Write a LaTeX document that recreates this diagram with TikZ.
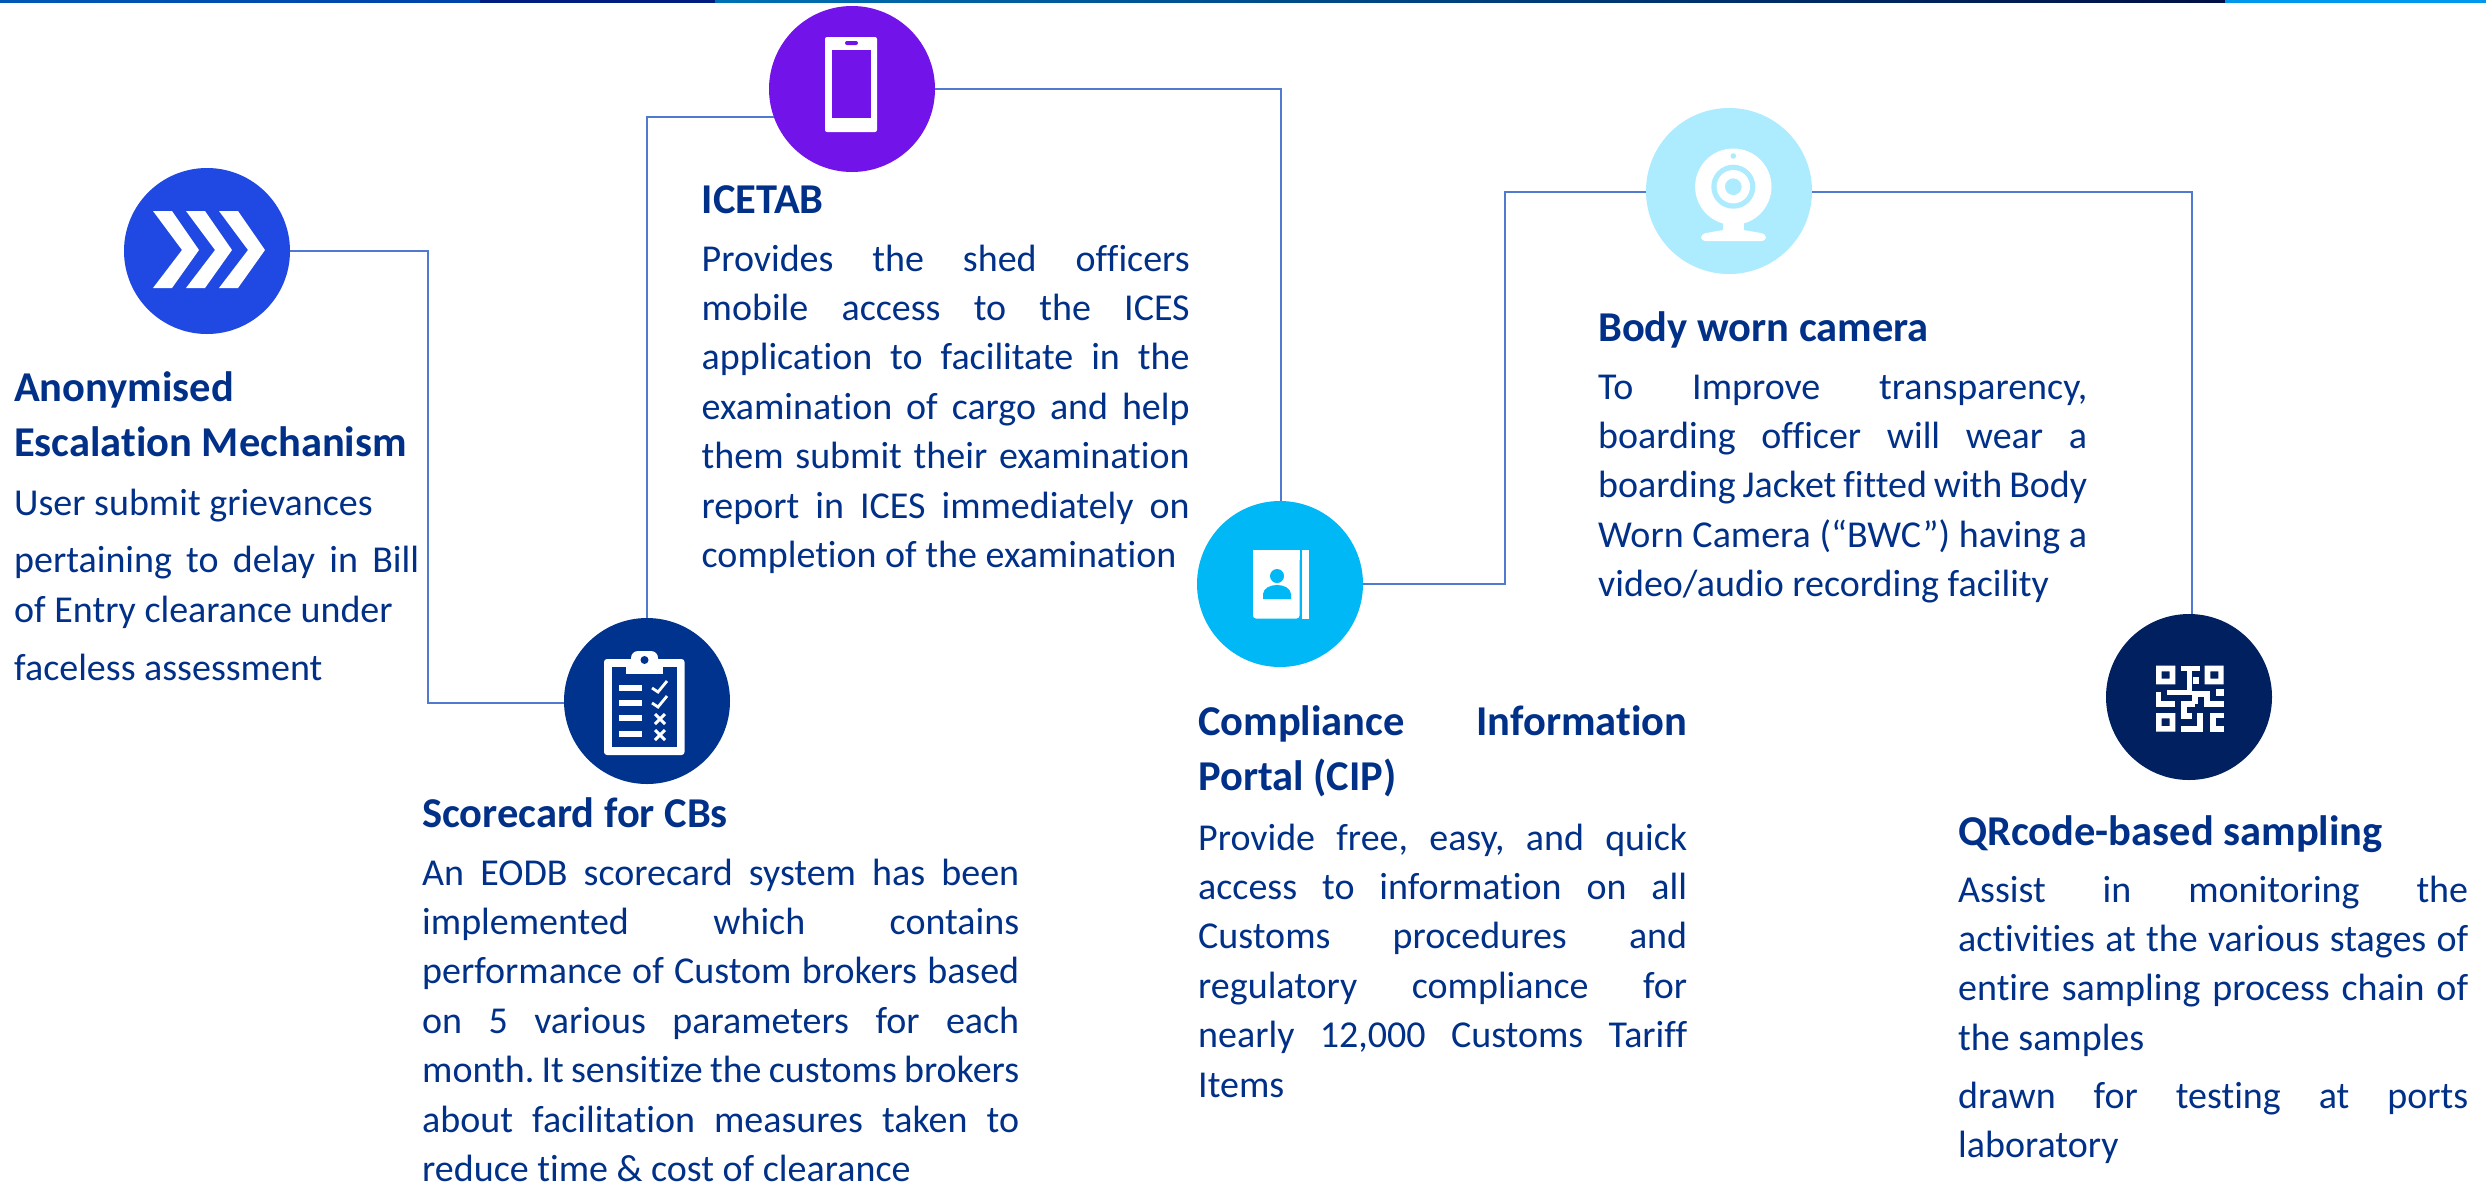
\documentclass[tikz,border=0pt]{standalone}
\usepackage{fontspec}
\setmainfont{Carlito}[Ligatures=NoCommon]
\definecolor{txtblue}{HTML}{003087}
\definecolor{linkblue}{HTML}{4F7AD0}
\definecolor{cA}{HTML}{2049E4}
\definecolor{cB}{HTML}{00338D}
\definecolor{cC}{HTML}{7213EA}
\definecolor{cD}{HTML}{00B8F5}
\definecolor{cE}{HTML}{ADEBFF}
\definecolor{cF}{HTML}{00205F}
\definecolor{barA}{HTML}{0058B4}
\definecolor{barB}{HTML}{0042A8}
\definecolor{barC}{HTML}{001C80}
\definecolor{barD}{HTML}{0070B4}
\definecolor{barE}{HTML}{000F45}
\definecolor{barF}{HTML}{0096EC}
\newlength{\bw}
\newcommand{\jl}[1]{\makebox[\bw][s]{#1}\par}
\newcommand{\pl}[1]{\makebox[\bw][l]{#1}\par}
\newcommand{\bodyblock}[2]{\setlength{\bw}{#1}\parbox[t]{#1}{\fontsize{38bp}{38bp}\selectfont\frenchspacing\setlength{\parindent}{0pt}\setlength{\parskip}{0pt}\setlength{\lineskip}{0pt}\setlength{\baselineskip}{49.4bp}#2}}
\tikzset{
  x=1bp,y=-1bp,
  disc/.style={circle,minimum size=166bp,inner sep=0pt,draw=none},
  link/.style={draw=linkblue,line width=2bp},
  head/.style={anchor=base west,inner sep=0pt,text=txtblue,font=\fontsize{42.5bp}{42.5bp}\selectfont\bfseries},
  body/.style={anchor=base west,inner sep=0pt,text=txtblue},
}
\begin{document}
\begin{tikzpicture}
\useasboundingbox (0,0) rectangle (2486,1185);
\fill[white] (0,0) rectangle (2486,1185);
% top bar
\shade[left color=barA,right color=barB] (0,0) rectangle (480,2.5);
\fill[barC] (480,0) rectangle (715,2.5);
\shade[left color=barD,right color=barE] (715,0) rectangle (2225,2.5);
\fill[barF] (2225,0) rectangle (2486,2.5);
% discs
\node[disc,fill=cA] (anon) at (207,251) {};
\node[disc,fill=cB] (score) at (647,701) {};
\node[disc,fill=cC] (ice) at (852,89) {};
\node[disc,fill=cD] (cip) at (1280,584) {};
\node[disc,fill=cE] (cam) at (1729,191) {};
\node[disc,fill=cF] (qr) at (2189,697) {};
% connectors
\coordinate (k1) at (428,251);
\coordinate (k2) at (428,703);
\draw[link] (anon.east) -- (k1) -- (k2) -- (k2 -| score.west);
\coordinate (k3) at (ice.200 -| score.north);
\draw[link] (score.north) -- (k3) -- (ice.200);
\coordinate (k4) at (1281,89);
\draw[link] (ice.east) -- (k4) -- (k4 |- cip.north);
\coordinate (k5) at (1505,584);
\coordinate (k6) at (1505,192);
\draw[link] (cip.east) -- (k5) -- (k6) -- (k6 -| cam.west);
\coordinate (k7) at (2191.5,192);
\draw[link] (k6 -| cam.east) -- (k7) -- (k7 |- qr.north);
% chevrons
\begin{scope}[shift={(124,168)}]
\foreach \dx in {0,33,66}{
\fill[white,shift={(\dx,0)}] (29,43) -- (48,43) -- (75,82) -- (48,120) -- (29,120) -- (58,82) -- cycle;}
\end{scope}
% clipboard
\begin{scope}[shift={(540,620)}]
\fill[white,rounded corners=3] (64,39) rectangle (144.5,135);
\fill[white,rounded corners=7] (91,31) rectangle (118,50);
\fill[cB] (72,47) rectangle (137,127);
\fill[white] (86,40) rectangle (123,54);
\fill[cB] (104.5,40) circle (4);
\foreach \y in {65,80,95,111}{\fill[white] (79,\y) rectangle (102,\y+6);}
\foreach \y in {71,86}{\draw[white,line width=2.8] (112,\y-3) -- (118,\y+1) -- (127,\y-10);}
\foreach \y in {99,115}{\draw[white,line width=3] (115,\y-5) -- (125,\y+5) (125,\y-5) -- (115,\y+5);}
\end{scope}
% phone
\begin{scope}[shift={(852,89)}]
\fill[white,rounded corners=2] (-27,-52) rectangle (25,43);
\fill[cC] (-20,-39) rectangle (19,29);
\fill[cC,rounded corners=2] (-7,-48) rectangle (6,-44);
\end{scope}
% address book
\begin{scope}[shift={(1180,500)}]
\fill[white,rounded corners=3] (73,50) rectangle (119.5,118.5);
\fill[white] (73,50) rectangle (119.5,60);
\fill[white] (122,50) rectangle (129,118.5);
\fill[cD] (97,76) circle (7);
\fill[cD] (83,99) -- (83,94) .. controls (84,82) and (110,82) .. (111,94) -- (111,99) -- cycle;
\end{scope}
% webcam
\begin{scope}[shift={(1620,110)}]
\fill[white] (113.3,76.7) circle (38.2);
\fill[white] (102.5,100) rectangle (124.2,122);
\fill[white,rounded corners=4] (81,131) -- (81,124) -- (102.5,120) -- (124.2,120) -- (146,124) -- (146,131) -- cycle;
\fill[cE] (113.3,46) circle (2.8);
\fill[cE] (113.3,76.7) circle (22);
\fill[white] (113.3,76.7) circle (16.7);
\fill[cE] (113.3,76.7) circle (8.3);
\end{scope}
% QR
\begin{scope}[shift={(2080,600)},scale=1/3]
\fill[white,even odd rule] (228,197) rectangle (286,253) (245,214) rectangle (269,236);
\fill[white,even odd rule] (374,197) rectangle (431,253) (391,214) rectangle (415,236);
\fill[white,even odd rule] (228,339) rectangle (286,395) (245,355) rectangle (269,378);
\fill[white] (338,231) rectangle (357,253);
\fill[white] (407,268) rectangle (431,287);
\draw[white,line width=5.6] (303,205) -- (360,205) (328,205) -- (328,277) -- (262,277);
\draw[white,line width=5.6] (236,275) -- (236,312) -- (286,312);
\draw[white,line width=5.6] (345,312) -- (312,312) -- (312,348) -- (337,348);
\draw[white,line width=5.6] (345,312) -- (345,282) -- (381,282) -- (381,312) -- (431,312);
\draw[white,line width=5.6] (303,387) -- (360,387) -- (360,339);
\draw[white,line width=5.6] (431,347) -- (399,347) -- (399,387) -- (431,387);
\end{scope}
% texts
\node[head] (t1a) at (14,401) {Anonymised};
\node[head] (t1b) at (14,456.5) {Escalation Mechanism};
\node[body] (t1c) at (14,515) {\bodyblock{405bp}{\pl{User submit grievances}\vspace{8.4bp}\jl{pertaining to delay in Bill}\pl{of Entry clearance under}\vspace{8.4bp}\pl{faceless assessment}}};
\node[head] (t2a) at (422,827) {Scorecard for CBs};
\node[body] (t2b) at (422,885) {\bodyblock{597bp}{\jl{An EODB scorecard system has been}\jl{implemented which contains}\jl{performance of Custom brokers based}\jl{on 5 various parameters for each}\jl{month. It sensitize the customs brokers}\jl{about facilitation measures taken to}\pl{reduce time \& cost of clearance}}};
\node[head] (t3a) at (701.5,213) {ICETAB};
\node[body] (t3b) at (701.5,271) {\bodyblock{488bp}{\jl{Provides the shed officers}\jl{mobile access to the ICES}\jl{application to facilitate in the}\jl{examination of cargo and help}\jl{them submit their examination}\jl{report in ICES immediately on}\pl{completion of the examination}}};
\node[head] (t4a) at (1198,735) {\makebox[489bp][s]{Compliance Information}};
\node[head] (t4b) at (1198,790) {Portal (CIP)};
\node[body] (t4c) at (1198,850) {\bodyblock{489bp}{\jl{Provide free, easy, and quick}\jl{access to information on all}\jl{Customs procedures and}\jl{regulatory compliance for}\jl{nearly 12,000 Customs Tariff}\pl{Items}}};
\node[head] (t5a) at (1598,341) {Body worn camera};
\node[body] (t5b) at (1598,399) {\bodyblock{489bp}{\jl{To Improve transparency,}\jl{boarding officer will wear a}\jl{boarding Jacket fitted with Body}\jl{Worn Camera (“BWC”) having a}\pl{video/audio recording facility}}};
\node[head] (t6a) at (1958,845) {QRcode-based sampling};
\node[body] (t6b) at (1958,902) {\bodyblock{510bp}{\jl{Assist in monitoring the}\jl{activities at the various stages of}\jl{entire sampling process chain of}\pl{the samples}\vspace{8.4bp}\jl{drawn for testing at ports}\pl{laboratory}}};
\end{tikzpicture}
\end{document}
